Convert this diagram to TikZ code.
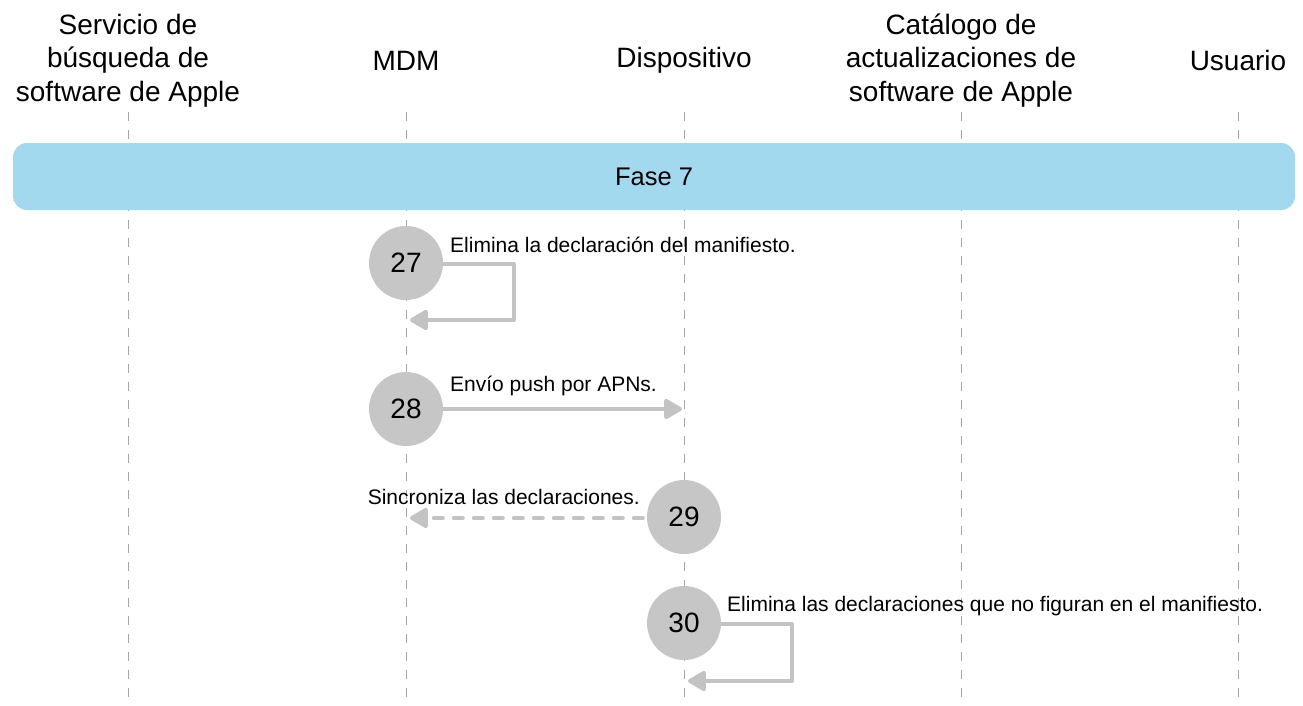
\documentclass[tikz,border=0pt]{standalone}
\usepackage{fontspec}
\setmainfont{Liberation Sans}
\usetikzlibrary{arrows.meta,positioning}
\definecolor{phaseblue}{HTML}{A3D9EF}
\definecolor{stepgray}{HTML}{C6C6C6}
\definecolor{arrowgray}{HTML}{C3C3C3}
\definecolor{lifegray}{HTML}{A5A5A5}
\tikzset{
    lane/.style={align=center,inner sep=0pt,font=\fontsize{28}{33.5}\selectfont},
    lifeline/.style={draw=lifegray,line width=1pt,dash pattern=on 9pt off 9pt},
    phase/.style={fill=phaseblue,rounded corners=14pt,minimum width=1282pt,minimum height=67pt,font=\fontsize{25.5}{30}\selectfont},
    stepnum/.style={circle,fill=stepgray,minimum size=74pt,inner sep=0pt,font=\fontsize{28}{32}\selectfont},
    msg/.style={draw=arrowgray,line width=4pt,line join=round,-{Triangle[length=20pt,width=22pt,round]}},
    reply/.style={msg,line cap=round,dash pattern=on 9pt off 11pt},
    msgtext/.style={inner sep=0pt,font=\fontsize{21}{25}\selectfont},
}

\begin{document}
\begin{tikzpicture}[x=1pt,y=-1pt]
    \useasboundingbox (0,0) rectangle (1303,705);
    \foreach \x/\n/\t in {128/search/{Servicio de\\búsqueda de\\software de Apple},406/mdm/MDM,684/dev/Dispositivo,961/catalog/{Catálogo de\\actualizaciones de\\software de Apple},1238/user/Usuario}{
        \node[lane] (\n) at (\x,60.5) {\t};
        \coordinate (\n-top) at (\x,112);
        \coordinate (\n-bot) at (\x,697);
        \draw[lifeline] (\n-top) -- (\n-bot);
    }
    \node[phase] (fase) at (654,176.5) {Fase 7};

    \node[stepnum] (s27) at (406,263) {27};
    \node[stepnum] (s28) at (406,409) {28};
    \node[stepnum] (s29) at (684,517) {29};
    \node[stepnum] (s30) at (684,623) {30};

    \coordinate (mdm-27) at (410,320);
    \coordinate (dev-28) at (682,409);
    \coordinate (mdm-29) at (410,518);
    \coordinate (dev-30) at (688,681);

    \draw[msg] (s27.east) ++(0,1) -- (514,264) |- (mdm-27);
    \draw[msg] (s28) ++(37,0) -- (dev-28);
    \draw[reply] (s29.west) ++(-4,1) -- (mdm-29);
    \draw[msg] (s30.east) ++(0,1) -- (792,624) |- (dev-30);

    \node[msgtext,anchor=west] (t27) at (450,245) {Elimina la declaración del manifiesto.};
    \node[msgtext,anchor=west] (t28) at (450,386) {Envío push por APNs.};
    \node[msgtext,anchor=east] (t29) at (640,497) {Sincroniza las declaraciones.};
    \node[msgtext,anchor=west] (t30) at (727,606) {Elimina las declaraciones que no figuran en el manifiesto.};
\end{tikzpicture}
\end{document}
